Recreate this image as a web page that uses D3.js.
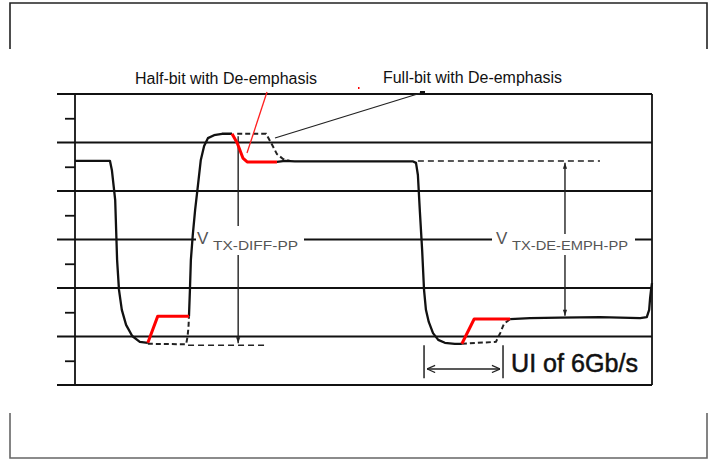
<!DOCTYPE html>
<html>
<head>
<meta charset="utf-8">
<script src="https://cdn.jsdelivr.net/npm/d3@7/dist/d3.min.js"></script>
<style>
  html, body { margin: 0; padding: 0; background: #fff; }
  svg { display: block; }
  text { font-family: "Liberation Sans", Arial, sans-serif; }
</style>
</head>
<body>
<svg id="chart" width="709" height="460"></svg>
<script>
// ---- data (time in ps, level in divisions) ----
const majorLevels = [0, 1, 2, 3, 4, 5, 6];
const minorLevels = [0.5, 1.5, 2.5, 3.5, 4.5, 5.5];

// solid black waveform, split where the red de-emphasis segments take over
const solidA = [[0,4.62],[74,4.62],[78,4.43],[85,3.81],[89,2.58],[93,1.96],[99,1.55],[108,1.24],[121,1.01],[137,0.89],[154,0.87]];
const solidB = [[241,1.42],[243,1.96],[245,2.58],[249,3.09],[254,3.61],[260,4.12],[266,4.64],[273,4.93],[281,5.09],[294,5.15],[311,5.18],[332,5.18]];
const solidC = [[427,4.60],[444,4.62],[465,4.61],[600,4.61],[715,4.61],[721,4.58],[725,4.33],[729,3.61],[734,2.78],[738,1.96],[742,1.55],[748,1.30],[757,1.07],[768,0.93],[782,0.87],[803,0.85],[818,0.85]];
const solidD = [[920,1.36],[962,1.38],[1025,1.39],[1110,1.40],[1195,1.38],[1209,1.40],[1214,1.55],[1216,1.79],[1218,1.96],[1220,2.10]];

// half-bit de-emphasis (red)
const halfBit1 = [[154,0.87],[175,1.42],[241,1.42]];
const halfBit2 = [[332,5.18],[343,4.99],[355,4.68],[364,4.60],[427,4.60]];
const halfBit3 = [[818,0.85],[844,1.36],[920,1.36]];

// full-bit de-emphasis (dashed)
const fullBit1 = [[154,0.85],[235,0.84],[238,1.00],[240,1.20],[241,1.42]];
const fullBit2 = [[343,5.18],[404,5.18],[417,4.95],[427,4.76],[440,4.66],[455,4.62]];
const fullBit3 = [[818,0.85],[890,0.89],[899,1.07],[907,1.26],[920,1.36]];

// reference level dashed lines
const refLow  = [[239,0.82],[402,0.82]];
const refHigh = [[725,4.62],[1110,4.62]];

// measurement arrows
const diffArrow  = {t: 345, from: 5.13, to: 0.86};
const emphArrow  = {t: 1036, from: 4.58, to: 1.43};
const uiMarks    = {t0: 738, t1: 905, top: 0.82, bottom: 0.14, level: 0.33};

const labels = {
  half: "Half-bit with De-emphasis",
  full: "Full-bit with De-emphasis",
  diffV: "V", diffSub: "TX-DIFF-PP",
  emphV: "V", emphSub: "TX-DE-EMPH-PP",
  ui: "UI of 6Gb/s"
};

// ---- scales ----
const x = d3.scaleLinear().domain([0, 1220]).range([75, 652]);
const y = d3.scaleLinear().domain([0, 6]).range([385, 94]);

const svg = d3.select("#chart");
const line = d3.line().x(d => x(d[0])).y(d => y(d[1]));

// outer frame pieces
svg.append("path").attr("d", "M10,49V3H707V49").attr("fill", "none").attr("stroke", "#222").attr("stroke-width", 1.6);
svg.append("path").attr("d", "M10,413V458H707V413").attr("fill", "none").attr("stroke", "#666").attr("stroke-width", 1.6);

// grid lines
svg.append("g").selectAll("line").data(majorLevels).join("line")
  .attr("x1", 57).attr("x2", x(1220))
  .attr("y1", d => y(d)).attr("y2", d => y(d))
  .attr("stroke", "#111").attr("stroke-width", 1.8);

// left axis with minor ticks
const axisMinor = d3.axisLeft(y).tickValues(minorLevels).tickSize(10).tickSizeOuter(0).tickFormat("");
const gAx = svg.append("g").attr("transform", `translate(${x(0)},0)`).call(axisMinor);
gAx.selectAll("path,line").attr("stroke", "#111").attr("stroke-width", 1.8);
gAx.select(".domain").attr("d", `M0,${y(6)}V${y(0)}`);

// right border
svg.append("line").attr("x1", x(1220)).attr("x2", x(1220)).attr("y1", y(6)).attr("y2", y(0))
  .attr("stroke", "#111").attr("stroke-width", 1.8);

// arrowhead markers
const defs = svg.append("defs");
defs.append("marker").attr("id", "ah").attr("viewBox", "0 0 10 10").attr("refX", 10).attr("refY", 5)
  .attr("markerWidth", 10).attr("markerHeight", 6).attr("markerUnits", "userSpaceOnUse").attr("orient", "auto-start-reverse")
  .append("path").attr("d", "M0,1.5L10,5L0,8.5Z").attr("fill", "#222");
defs.append("marker").attr("id", "chev").attr("viewBox", "0 0 10 10").attr("refX", 10).attr("refY", 5)
  .attr("markerWidth", 9).attr("markerHeight", 9).attr("markerUnits", "userSpaceOnUse").attr("orient", "auto-start-reverse")
  .append("path").attr("d", "M1,1L10,5L1,9").attr("fill", "none").attr("stroke", "#222").attr("stroke-width", 1.3);

// measurement arrows
svg.append("line").attr("x1", x(diffArrow.t)).attr("x2", x(diffArrow.t))
  .attr("y1", y(diffArrow.from)).attr("y2", y(diffArrow.to))
  .attr("stroke", "#222").attr("stroke-width", 1.4).attr("marker-end", "url(#ah)");
svg.append("line").attr("x1", x(emphArrow.t)).attr("x2", x(emphArrow.t))
  .attr("y1", y(emphArrow.from)).attr("y2", y(emphArrow.to))
  .attr("stroke", "#222").attr("stroke-width", 1.4).attr("marker-start", "url(#ah)").attr("marker-end", "url(#ah)");

// white knock-outs behind the V labels
svg.append("rect").attr("x", 196).attr("y", 226).attr("width", 108).attr("height", 29).attr("fill", "#fff");
svg.append("rect").attr("x", 492).attr("y", 234).attr("width", 143).attr("height", 21).attr("fill", "#fff");

// reference dashed lines
[refLow, refHigh].forEach(d => svg.append("path").attr("d", line(d)).attr("fill", "none")
  .attr("stroke", "#222").attr("stroke-width", 1.5).attr("stroke-dasharray", "6,4"));

// full-bit dashed
[fullBit1, fullBit2, fullBit3].forEach(d => svg.append("path").attr("d", line(d)).attr("fill", "none")
  .attr("stroke", "#222").attr("stroke-width", 2).attr("stroke-dasharray", "5,3"));

// solid waveform
[solidA, solidB, solidC, solidD].forEach(d => svg.append("path").attr("d", line(d)).attr("fill", "none")
  .attr("stroke", "#111").attr("stroke-width", 2.3).attr("stroke-linejoin", "round"));

// half-bit red
[halfBit1, halfBit2, halfBit3].forEach(d => svg.append("path").attr("d", line(d)).attr("fill", "none")
  .attr("stroke", "#ff0000").attr("stroke-width", 3).attr("stroke-linejoin", "round"));

// leader lines
svg.append("line").attr("x1", 267).attr("y1", 92).attr("x2", 247).attr("y2", 153)
  .attr("stroke", "#ff2020").attr("stroke-width", 1.3);
svg.append("line").attr("x1", 275).attr("y1", 138).attr("x2", 424).attr("y2", 92)
  .attr("stroke", "#222").attr("stroke-width", 1.3);
svg.append("rect").attr("x", 420).attr("y", 91).attr("width", 5).attr("height", 3).attr("fill", "#111");
svg.append("rect").attr("x", 358).attr("y", 87).attr("width", 1.5).attr("height", 2).attr("fill", "#f00");

// UI marker
[uiMarks.t0, uiMarks.t1].forEach(t => svg.append("line").attr("x1", x(t)).attr("x2", x(t))
  .attr("y1", y(uiMarks.top)).attr("y2", y(uiMarks.bottom)).attr("stroke", "#222").attr("stroke-width", 1.5));
svg.append("line").attr("x1", x(uiMarks.t0) + 3).attr("x2", x(uiMarks.t1) - 3)
  .attr("y1", y(uiMarks.level)).attr("y2", y(uiMarks.level))
  .attr("stroke", "#222").attr("stroke-width", 1.4).attr("marker-start", "url(#chev)").attr("marker-end", "url(#chev)");

// texts
svg.append("text").attr("x", 135).attr("y", 84).attr("font-size", 16).attr("fill", "#111")
  .attr("textLength", 182).attr("lengthAdjust", "spacingAndGlyphs").text(labels.half);
svg.append("text").attr("x", 383).attr("y", 83).attr("font-size", 16).attr("fill", "#111")
  .attr("textLength", 179).attr("lengthAdjust", "spacingAndGlyphs").text(labels.full);

svg.append("text").attr("x", 197).attr("y", 244).attr("font-size", 17).attr("fill", "#555").text(labels.diffV);
svg.append("text").attr("x", 213).attr("y", 250).attr("font-size", 12.5).attr("fill", "#555")
  .attr("textLength", 85).attr("lengthAdjust", "spacingAndGlyphs").text(labels.diffSub);
svg.append("text").attr("x", 496).attr("y", 244).attr("font-size", 17).attr("fill", "#555").text(labels.emphV);
svg.append("text").attr("x", 512).attr("y", 250).attr("font-size", 12.5).attr("fill", "#555")
  .attr("textLength", 116).attr("lengthAdjust", "spacingAndGlyphs").text(labels.emphSub);

svg.append("text").attr("x", 511).attr("y", 372).attr("font-size", 25).attr("fill", "#111")
  .attr("stroke", "#111").attr("stroke-width", 0.5)
  .attr("textLength", 127).attr("lengthAdjust", "spacingAndGlyphs").text(labels.ui);
</script>
</body>
</html>
